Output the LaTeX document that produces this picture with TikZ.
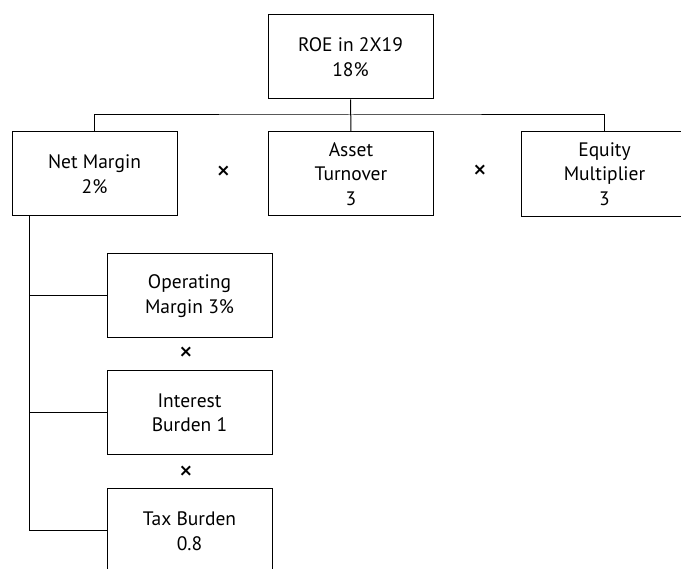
\documentclass[tikz,border=0pt]{standalone}
\usepackage{fontspec}
\setmainfont{PT Sans}
\begin{document}
\begin{tikzpicture}[x=1pt,y=-1pt,
  box/.style={draw,line width=1pt,minimum width=165pt,minimum height=84pt,
    align=center,inner sep=0pt,font=\fontsize{19.5}{24.5}\selectfont},
  timesmark/.style={inner sep=0pt,font=\fontsize{28}{30}\selectfont},
  conn/.style={line width=1pt}]
\useasboundingbox (0,0) rectangle (681,569);
\clip (0,0) rectangle (681,569);
\node[box] (roe) at (350.5,57) {ROE in 2X19\\18\%};
\node[box] (net) at (94.5,174) {Net Margin\\2\%};
\node[box] (asset) at (351,174) {Asset\\Turnover\\3};
\node[box,draw=none] (equity) at (604.5,174) {Equity\\Multiplier\\3};
\draw[conn] (equity.north west) rectangle ([xshift=40pt]equity.south east);
\node[timesmark] (t1) at (223.5,173.5) {×};
\node[timesmark] (t2) at (480,172.5) {×};
\node[box] (op) at (189.5,296) {Operating\\Margin 3\%};
\node[timesmark] (t3) at (186,354.5) {×};
\node[box] (int) at (189.5,413) {Interest\\Burden 1};
\node[timesmark] (t4) at (186,473) {×};
\node[box] (tax) at (189.5,531) {Tax Burden\\0.8};
\coordinate (bus) at (351,115);
\coordinate (spinetop) at (29,216);
\draw[conn] (roe.south) -- (asset.north);
\draw[conn] (net.north) |- (bus) -| (equity.north);
\draw[conn] (spinetop) |- (tax.west);
\draw[conn] (spinetop |- op.west) -- (op.west);
\draw[conn] (spinetop |- int.west) -- (int.west);
\end{tikzpicture}
\end{document}
